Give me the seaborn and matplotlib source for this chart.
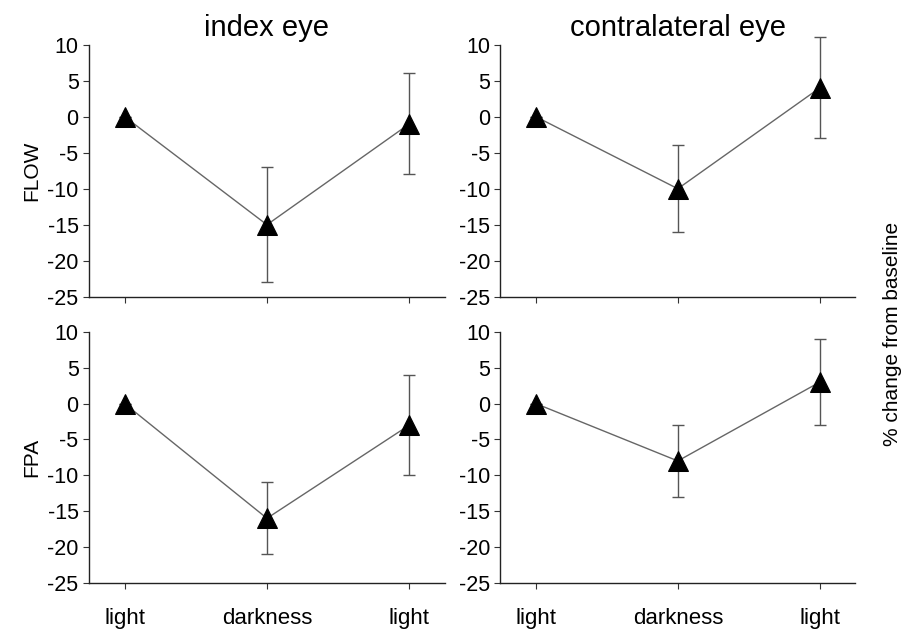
import numpy as np
import pandas as pd
import matplotlib.pyplot as plt
import seaborn as sns

conditions = ["light", "darkness", "light"]
step = [0, 1, 2]

flow_index = [0, -15, -1]
flow_index_err = [0, 8, 7]
flow_contra = [0, -10, 4]
flow_contra_err = [0, 6, 7]
fpa_index = [0, -16, -3]
fpa_index_err = [0, 5, 7]
fpa_contra = [0, -8, 3]
fpa_contra_err = [0, 5, 6]

sns.set_style("ticks")
plt.rcParams["font.family"] = ["Liberation Sans", "DejaVu Sans"]
plt.rcParams["axes.unicode_minus"] = False
plt.rcParams["text.color"] = "black"
plt.rcParams["xtick.color"] = "black"
plt.rcParams["ytick.color"] = "black"
plt.rcParams["axes.labelcolor"] = "black"

fig = plt.figure(figsize=(9.08, 6.37), dpi=100)
axes = {
    "tl": fig.add_axes([0.098, 0.534, 0.392, 0.396]),
    "tr": fig.add_axes([0.551, 0.534, 0.391, 0.396]),
    "bl": fig.add_axes([0.098, 0.085, 0.392, 0.394]),
    "br": fig.add_axes([0.551, 0.085, 0.391, 0.394]),
}
panels = [
    ("tl", flow_index, flow_index_err),
    ("tr", flow_contra, flow_contra_err),
    ("bl", fpa_index, fpa_index_err),
    ("br", fpa_contra, fpa_contra_err),
]

for key, vals, errs in panels:
    ax = axes[key]
    df = pd.DataFrame({"step": step, "value": vals})
    # error bars first so the triangles sit on top; let them poke above the axis
    eb = ax.errorbar(df["step"], df["value"], yerr=errs, fmt="none",
                     ecolor="#555555", elinewidth=1, capsize=4, capthick=1, zorder=1)
    for art in eb.lines[1] + eb.lines[2]:
        art.set_clip_on(False)
    sns.lineplot(data=df, x="step", y="value", ax=ax, color="#666666",
                 linewidth=1, marker="^", markersize=15, markerfacecolor="black",
                 markeredgecolor="black", zorder=2)
    ax.set_xlim(-0.25, 2.25)
    ax.set_ylim(-25, 10)
    ax.set_yticks(range(-25, 11, 5))
    ax.set_xticks(step)
    ax.set_xlabel("")
    ax.set_ylabel("")
    ax.tick_params(axis="both", labelsize=15.5, length=4, width=0.8, color="#333333")
    ax.tick_params(axis="x", pad=14)
    for s in ["left", "bottom"]:
        ax.spines[s].set_linewidth(1)
        ax.spines[s].set_color("#222222")
    sns.despine(ax=ax)
    if key in ("tl", "tr"):
        ax.set_xticklabels([])
    else:
        ax.set_xticklabels(conditions, fontsize=16)

axes["tl"].set_title("index eye", fontsize=21, pad=6)
axes["tr"].set_title("contralateral eye", fontsize=21, pad=6)
axes["tl"].set_ylabel("FLOW", fontsize=15, labelpad=4)
axes["bl"].set_ylabel("FPA", fontsize=15, labelpad=4)
fig.text(0.983, 0.475, "% change from baseline", rotation=90, fontsize=15,
         ha="center", va="center")

fig.savefig("out.png", dpi=100)
